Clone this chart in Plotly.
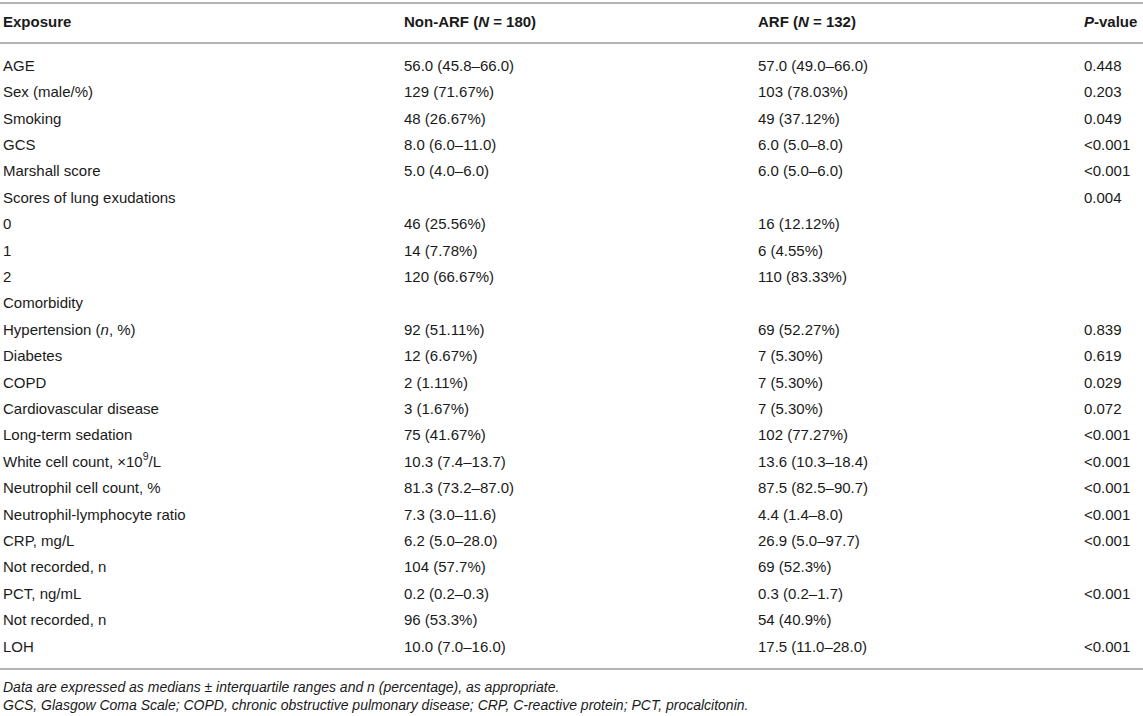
import plotly.graph_objects as go

# table content
exposure = [
    "AGE", "Sex (male/%)", "Smoking", "GCS", "Marshall score",
    "Scores of lung exudations", "0", "1", "2", "Comorbidity",
    "Hypertension (<i>n</i>, %)", "Diabetes", "COPD", "Cardiovascular disease",
    "Long-term sedation", "White cell count, \u00d710<sup>9</sup>/L",
    "Neutrophil cell count, %", "Neutrophil-lymphocyte ratio", "CRP, mg/L",
    "Not recorded, n", "PCT, ng/mL", "Not recorded, n", "LOH",
]
non_arf = [
    "56.0 (45.8\u201366.0)", "129 (71.67%)", "48 (26.67%)", "8.0 (6.0\u201311.0)",
    "5.0 (4.0\u20136.0)", "", "46 (25.56%)", "14 (7.78%)", "120 (66.67%)", "",
    "92 (51.11%)", "12 (6.67%)", "2 (1.11%)", "3 (1.67%)", "75 (41.67%)",
    "10.3 (7.4\u201313.7)", "81.3 (73.2\u201387.0)", "7.3 (3.0\u201311.6)",
    "6.2 (5.0\u201328.0)", "104 (57.7%)", "0.2 (0.2\u20130.3)", "96 (53.3%)",
    "10.0 (7.0\u201316.0)",
]
arf = [
    "57.0 (49.0\u201366.0)", "103 (78.03%)", "49 (37.12%)", "6.0 (5.0\u20138.0)",
    "6.0 (5.0\u20136.0)", "", "16 (12.12%)", "6 (4.55%)", "110 (83.33%)", "",
    "69 (52.27%)", "7 (5.30%)", "7 (5.30%)", "7 (5.30%)", "102 (77.27%)",
    "13.6 (10.3\u201318.4)", "87.5 (82.5\u201390.7)", "4.4 (1.4\u20138.0)",
    "26.9 (5.0\u201397.7)", "69 (52.3%)", "0.3 (0.2\u20131.7)", "54 (40.9%)",
    "17.5 (11.0\u201328.0)",
]
p_values = [
    "0.448", "0.203", "0.049", "&lt;0.001", "&lt;0.001", "0.004", "", "", "", "",
    "0.839", "0.619", "0.029", "0.072", "&lt;0.001", "&lt;0.001", "&lt;0.001",
    "&lt;0.001", "&lt;0.001", "", "&lt;0.001", "", "&lt;0.001",
]
headers = ["Exposure", "Non-ARF (<i>N</i> = 180)", "ARF (<i>N</i> = 132)", "<i>P</i>-value"]
footnotes = [
    "Data are expressed as medians \u00b1 interquartile ranges and n (percentage), as appropriate.",
    "GCS, Glasgow Coma Scale; COPD, chronic obstructive pulmonary disease; CRP, C-reactive protein; PCT, procalcitonin.",
]

W, H = 1143, 716
col_x = [3, 404, 758, 1084]
row0, row_h = 67, 26.4          # pixel centre of first body row, row pitch
FONT = "Liberation Sans, Arial, Helvetica, sans-serif"
TXT = "#1a1a1a"
RULE = "#b3b3b3"


def to_row(px):
    return (px - row0) / row_h


fig = go.Figure()
for cx, col in zip(col_x, [exposure, non_arf, arf, p_values]):
    # skip empty cells
    ys = [i for i, t in enumerate(col) if t]
    fig.add_trace(go.Scatter(
        x=[cx] * len(ys), y=ys, text=[col[i] for i in ys], mode="text",
        textposition="middle right", hoverinfo="skip", cliponaxis=False,
        textfont=dict(family=FONT, size=15, color=TXT),
    ))

# header row
fig.add_trace(go.Scatter(
    x=col_x, y=[to_row(23)] * 4, text=["<b>%s</b>" % h for h in headers],
    mode="text", textposition="middle right", hoverinfo="skip", cliponaxis=False,
    textfont=dict(family=FONT, size=15, color=TXT),
))

# footnotes
fig.add_trace(go.Scatter(
    x=[col_x[0]] * 2, y=[to_row(688), to_row(706)],
    text=["<i>%s</i>" % f for f in footnotes],
    mode="text", textposition="middle right", hoverinfo="skip", cliponaxis=False,
    textfont=dict(family=FONT, size=14, color=TXT),
))

# horizontal rules
for py in [3, 43, 669]:
    fig.add_shape(type="line", xref="x", yref="y", x0=0, x1=W,
                  y0=to_row(py), y1=to_row(py), line=dict(color=RULE, width=2))

fig.update_layout(
    width=W, height=H, margin=dict(l=0, r=0, t=0, b=0),
    paper_bgcolor="white", plot_bgcolor="white", showlegend=False,
    xaxis=dict(range=[0, W], visible=False, fixedrange=True),
    yaxis=dict(range=[to_row(H), to_row(0)], visible=False, fixedrange=True),
)

# drop the default page margin so the figure sits at the window origin
fig.write_html("out.html", config={"displayModeBar": False},
               post_script="document.body.style.margin='0';"
                           "document.body.style.overflow='hidden';")
